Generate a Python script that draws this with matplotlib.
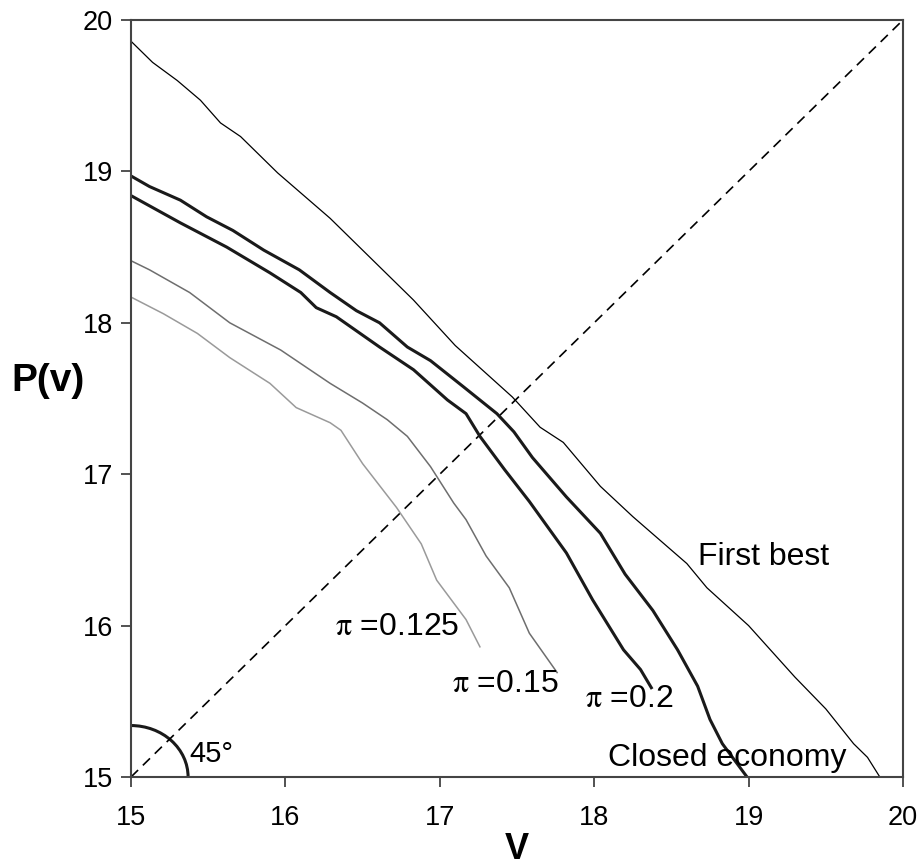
import matplotlib
matplotlib.use("Agg")
import matplotlib.pyplot as plt
from matplotlib.patches import Arc

plt.rcParams['font.family'] = ['Liberation Sans', 'DejaVu Sans']
plt.rcParams['mathtext.fontset'] = 'stix'

# curves
fb_x = [15.00, 15.14, 15.30, 15.45, 15.58, 15.71, 15.95, 16.29, 16.50, 16.83, 17.10, 17.47,
        17.65, 17.80, 18.04, 18.25, 18.60, 18.73, 19.00, 19.30, 19.50, 19.68, 19.77, 19.85]
fb_y = [19.86, 19.72, 19.60, 19.47, 19.32, 19.23, 18.99, 18.69, 18.48, 18.15, 17.85, 17.51,
        17.31, 17.21, 16.92, 16.72, 16.41, 16.25, 16.00, 15.66, 15.45, 15.22, 15.13, 15.00]

ce_x = [15.00, 15.12, 15.32, 15.49, 15.66, 15.86, 16.09, 16.29, 16.46, 16.61, 16.79, 16.94, 17.15,
        17.37, 17.48, 17.60, 17.82, 18.04, 18.20, 18.38, 18.54, 18.67, 18.75, 18.83, 18.99]
ce_y = [18.97, 18.90, 18.81, 18.70, 18.61, 18.48, 18.35, 18.20, 18.08, 18.00, 17.84, 17.75, 17.58,
        17.40, 17.28, 17.11, 16.85, 16.61, 16.34, 16.10, 15.84, 15.60, 15.38, 15.22, 15.00]

p20_x = [15.00, 15.32, 15.62, 15.90, 16.10, 16.20, 16.33, 16.61, 16.83, 17.05, 17.17, 17.26,
         17.42, 17.58, 17.82, 17.99, 18.19, 18.30, 18.37]
p20_y = [18.84, 18.66, 18.50, 18.33, 18.20, 18.10, 18.04, 17.84, 17.69, 17.49, 17.40, 17.25,
         17.03, 16.82, 16.48, 16.17, 15.84, 15.71, 15.59]

p15_x = [15.00, 15.12, 15.38, 15.64, 15.97, 16.29, 16.50, 16.66, 16.79, 16.94, 17.09, 17.17,
         17.30, 17.45, 17.58, 17.76]
p15_y = [18.41, 18.35, 18.20, 18.00, 17.82, 17.60, 17.47, 17.36, 17.25, 17.05, 16.81, 16.70,
         16.46, 16.25, 15.95, 15.69]

p125_x = [15.00, 15.21, 15.43, 15.64, 15.90, 16.07, 16.29, 16.36, 16.50, 16.72, 16.88, 16.98, 17.17, 17.26]
p125_y = [18.17, 18.06, 17.93, 17.77, 17.60, 17.44, 17.34, 17.29, 17.07, 16.78, 16.54, 16.30, 16.04, 15.86]

ticks = [15, 16, 17, 18, 19, 20]

fig = plt.figure(figsize=(9.19, 8.65), dpi=100)
ax = fig.add_axes([0.1425, 0.1017, 0.8401, 0.8752])

ax.plot([15, 20], [15, 20], color='black', lw=1.2, dashes=(6, 4))
ax.plot(fb_x, fb_y, color='black', lw=0.9)
ax.plot(ce_x, ce_y, color='#1a1a1a', lw=2.2)
ax.plot(p20_x, p20_y, color='#1a1a1a', lw=2.2)
ax.plot(p15_x, p15_y, color='#6e6e6e', lw=1.1)
ax.plot(p125_x, p125_y, color='#9a9a9a', lw=1.1)

# 45 degree marker
ax.add_patch(Arc((15, 15), 0.74, 0.68, theta1=0, theta2=90, color='#1a1a1a', lw=2.2))

fs = 23
ax.text(16.32, 15.94, r'$\mathrm{\pi}$ =0.125', fontsize=fs, va='baseline')
ax.text(17.08, 15.56, r'$\mathrm{\pi}$ =0.15', fontsize=fs, va='baseline')
ax.text(17.94, 15.46, r'$\mathrm{\pi}$ =0.2', fontsize=fs, va='baseline')
ax.text(18.67, 16.40, 'First best', fontsize=fs, va='baseline')
ax.text(18.09, 15.07, 'Closed economy', fontsize=fs, va='baseline')
ax.text(15.38, 15.10, '45°', fontsize=21, va='baseline')

ax.set_xlim(15, 20)
ax.set_ylim(15, 20)
ax.set_xticks(ticks)
ax.set_yticks(ticks)
ax.tick_params(direction='out', length=7, width=1.2, labelsize=19.5, color='#333333')
ax.tick_params(axis='x', pad=13)
ax.tick_params(axis='y', pad=6)
for s in ax.spines.values():
    s.set_color('#444444')
    s.set_linewidth(1.5)

ax.set_xlabel('V', fontsize=26, fontweight='bold')
ax.xaxis.set_label_coords(0.5, -0.072)
ax.set_ylabel('P(v)', fontsize=28, fontweight='bold', rotation=0)
ax.yaxis.set_label_coords(-0.108, 0.5)

fig.savefig('out.png', dpi=100)
